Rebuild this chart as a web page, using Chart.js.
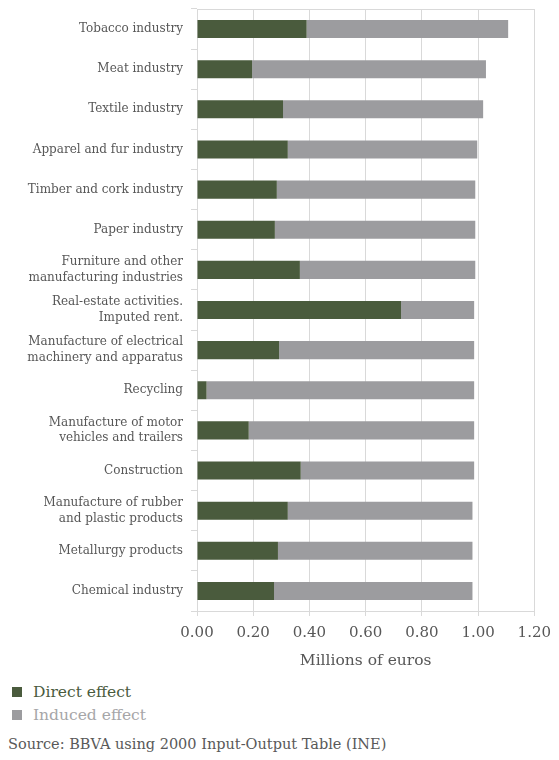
<!DOCTYPE html>
<html>
<head>
<meta charset="utf-8">
<script src="https://cdn.jsdelivr.net/npm/chart.js@4.4.1/dist/chart.umd.min.js"></script>
<style>
  body { margin: 0; background: #fff; font-family: "DejaVu Serif", serif; }
  #wrap { position: absolute; left: 0; top: 0; width: 559px; height: 673px; }
  .legend { position: absolute; left: 12px; font-size: 15.5px; line-height: 18px; }
  .legend span.box { display: inline-block; width: 10px; height: 10px; margin-right: 11px; vertical-align: 0px; }
  #source { position: absolute; left: 8px; top: 736px; font-size: 14.5px; color: #595959; }
</style>
</head>
<body>
<div id="wrap"><canvas id="myChart"></canvas></div>
<div class="legend" style="top:683px; color:#4a5b3d;"><span class="box" style="background:#4a5b3d"></span>Direct effect</div>
<div class="legend" style="top:706px; color:#a6a6a8;"><span class="box" style="background:#9c9c9f"></span>Induced effect</div>
<div id="source">Source: BBVA using 2000 Input-Output Table (INE)</div>
<script>
// 🏭 Sectors (top to bottom)
const sectors = [
    "Tobacco industry",
    "Meat industry",
    "Textile industry",
    "Apparel and fur industry",
    "Timber and cork industry",
    "Paper industry",
    ["Furniture and other", "manufacturing industries"],
    ["Real-estate activities.", "Imputed rent."],
    ["Manufacture of electrical", "machinery and apparatus"],
    "Recycling",
    ["Manufacture of motor", "vehicles and trailers"],
    "Construction",
    ["Manufacture of rubber", "and plastic products"],
    "Metallurgy products",
    "Chemical industry"
];

// 💶 Effects, millions of euros
const directEffect = [0.39, 0.196, 0.306, 0.323, 0.284, 0.277, 0.366, 0.726, 0.292, 0.034, 0.184, 0.369, 0.323, 0.288, 0.274];
const totalEffect  = [1.107, 1.028, 1.018, 0.997, 0.990, 0.990, 0.990, 0.986, 0.986, 0.986, 0.986, 0.986, 0.980, 0.980, 0.980];
const inducedEffect = totalEffect.map((t, i) => +(t - directEffect[i]).toFixed(3));

const xTicks = [0, 0.2, 0.4, 0.6, 0.8, 1.0, 1.2];

const gridColor = "#d9d9d9";
const textColor = "#575757";

const ctx = document.getElementById('myChart').getContext('2d');
const myChart = new Chart(ctx, {
    type: 'bar',
    data: {
        labels: sectors,
        datasets: [
            { label: 'Direct effect', data: directEffect, backgroundColor: '#4a5b3d' },
            { label: 'Induced effect', data: inducedEffect, backgroundColor: '#9c9c9f' }
        ]
    },
    options: {
        indexAxis: 'y',
        responsive: true,
        maintainAspectRatio: false,
        animation: false,
        categoryPercentage: 0.9,
        barPercentage: 0.5,
        layout: { padding: { top: 9, right: 0, left: 0, bottom: 0 } },
        plugins: {
            legend: { display: false },
            tooltip: { enabled: false }
        },
        scales: {
            x: {
                stacked: true,
                min: xTicks[0],
                max: xTicks[xTicks.length - 1],
                afterBuildTicks: scale => { scale.ticks = xTicks.map(v => ({ value: v })); },
                afterFit: scale => { scale.height = 62; },
                grid: { color: gridColor, tickLength: 5 },
                border: { color: gridColor },
                ticks: {
                    padding: 8,
                    color: textColor,
                    font: { family: 'DejaVu Serif', size: 15 },
                    callback: v => Number(v).toFixed(2)
                },
                title: {
                    display: true,
                    text: 'Millions of euros',
                    color: textColor,
                    font: { family: 'DejaVu Serif', size: 15.5 },
                    padding: { top: 0, bottom: 3 }
                }
            },
            // top edge of the plot box
            x2: {
                position: 'top',
                min: 0,
                max: 1.2,
                grid: { display: false, drawTicks: false },
                border: { display: true, color: gridColor },
                ticks: { display: false },
                afterFit: scale => { scale.height = 0; }
            },
            y: {
                stacked: true,
                afterFit: scale => {
                    scale.width = 197;
                    scale.paddingTop = 0;
                    scale.paddingBottom = 0;
                },
                grid: { drawOnChartArea: false, color: gridColor, tickLength: 6 },
                border: { color: gridColor },
                ticks: {
                    padding: 8,
                    color: textColor,
                    font: { family: 'DejaVu Serif', size: 12, lineHeight: 1.3 }
                }
            }
        }
    }
});
</script>
</body>
</html>
